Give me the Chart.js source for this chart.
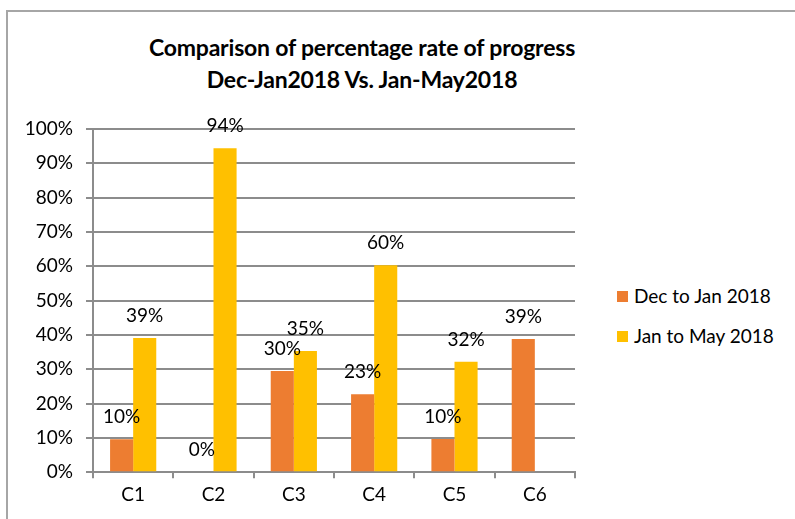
<!DOCTYPE html>
<html>
<head>
<meta charset="utf-8">
<script src="https://cdn.jsdelivr.net/npm/chart.js@4.4.0/dist/chart.umd.min.js"></script>
<style>
    html, body { margin: 0; padding: 0; background: #fff; }
    #wrap { position: relative; width: 795px; height: 519px; overflow: hidden; font-family: Lato, sans-serif; }
    #frame { position: absolute; left: 6px; top: 10px; width: 800px; height: 600px; border-left: 2px solid #a6a6a6; border-top: 2px solid #a6a6a6; }
    #title { position: absolute; left: 62px; width: 600px; top: 31px; text-align: center; font-weight: bold; font-size: 23px; line-height: 32px; color: #000; letter-spacing: -0.2px; }
    #legend { position: absolute; left: 617px; top: 284px; font-size: 19px; color: #000; }
    #legend .item { height: 40px; display: flex; align-items: flex-start; }
    #legend .box { width: 11px; height: 11px; margin: 7px 6px 0 0; }
    canvas { position: absolute; left: 0; top: 0; }
</style>
</head>
<body>
<div id="wrap">
    <div id="frame"></div>
    <div id="title">Comparison of percentage rate of progress<br>Dec-Jan2018 Vs. Jan-May2018</div>
    <div id="legend"></div>
    <canvas id="chart" width="795" height="519"></canvas>
</div>
<script>
const categories = ['C1', 'C2', 'C3', 'C4', 'C5', 'C6'];
const decToJan = [9.6, 0, 29.5, 22.7, 9.7, 38.8];
const janToMay = [39.1, 94.4, 35.3, 60.3, 32.2, null];
const seriesNames = ['Dec to Jan 2018', 'Jan to May 2018'];
const seriesColors = ['#ed7d31', '#ffc000'];
const yTicks = [0, 10, 20, 30, 40, 50, 60, 70, 80, 90, 100];

// legend built from the series names/colours
const legendEl = document.getElementById('legend');
seriesNames.forEach((name, i) => {
    const item = document.createElement('div');
    item.className = 'item';
    item.innerHTML = '<span class="box" style="background:' + seriesColors[i] + '"></span><span>' + name + '</span>';
    legendEl.appendChild(item);
});

const barLabels = {
    id: 'barLabels',
    afterDatasetsDraw(chart) {
        const ctx = chart.ctx;
        ctx.save();
        ctx.font = '19px Lato';
        ctx.fillStyle = '#000';
        ctx.textAlign = 'center';
        ctx.textBaseline = 'middle';
        chart.data.datasets.forEach((ds, i) => {
            chart.getDatasetMeta(i).data.forEach((bar, j) => {
                const v = ds.data[j];
                if (v === null) return;
                ctx.fillText(Math.round(v) + '%', bar.x, bar.y - 22);
            });
        });
        ctx.restore();
    }
};

new Chart(document.getElementById('chart').getContext('2d'), {
    type: 'bar',
    data: {
        labels: categories,
        datasets: [{
            label: seriesNames[0],
            data: decToJan,
            backgroundColor: seriesColors[0]
        }, {
            label: seriesNames[1],
            data: janToMay,
            backgroundColor: seriesColors[1]
        }]
    },
    options: {
        responsive: false,
        animation: false,
        layout: {
            padding: { top: 129, right: 220, bottom: 8, left: 0 }
        },
        datasets: {
            bar: {
                categoryPercentage: 0.575,
                barPercentage: 1
            }
        },
        plugins: {
            legend: { display: false },
            title: { display: false },
            tooltip: { enabled: false }
        },
        scales: {
            y: {
                min: 0,
                max: 100,
                afterBuildTicks(scale) {
                    scale.ticks = yTicks.map(v => ({ value: v }));
                },
                afterFit(scale) {
                    scale.width = 93;
                },
                ticks: {
                    padding: 13,
                    color: '#000',
                    font: { family: 'Lato', size: 19 },
                    callback: v => v + '%'
                },
                grid: {
                    color: '#8c8c8c',
                    lineWidth: 2,
                    tickLength: 7
                },
                border: { color: '#8c8c8c', width: 2 }
            },
            x: {
                ticks: {
                    padding: 5,
                    color: '#000',
                    font: { family: 'Lato', size: 19 }
                },
                grid: {
                    offset: true,
                    drawOnChartArea: false,
                    color: '#8c8c8c',
                    lineWidth: 2,
                    tickLength: 6
                },
                border: { color: '#8c8c8c', width: 2 }
            }
        }
    },
    plugins: [barLabels]
});
</script>
</body>
</html>
